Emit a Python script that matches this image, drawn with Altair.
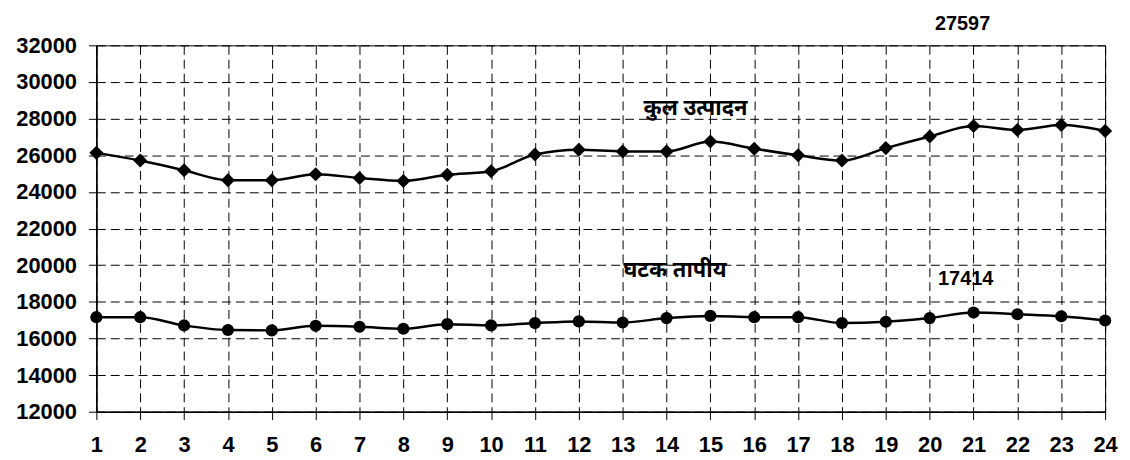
import altair as alt
import pandas as pd

hours = list(range(1, 25))
total = [26130, 25710, 25180, 24640, 24640, 24960, 24760, 24600, 24930, 25130,
         26040, 26300, 26210, 26210, 26750, 26360, 26000, 25710, 26390, 27020,
         27597, 27380, 27650, 27330]
thermal = [17160, 17160, 16710, 16460, 16440, 16690, 16640, 16530, 16780, 16710,
           16840, 16930, 16870, 17110, 17230, 17160, 17160, 16840, 16910, 17110,
           17414, 17320, 17210, 16980]

series_names = ["कुल उत्पादन", "घटक तापीय"]
series_shapes = ["diamond", "circle"]
series_sizes = [200, 150]

name_x = [14.66, 14.19]
name_y = [28600, 19730]

value_text = ["27597", "17414"]
value_x = [20.75, 20.82]
value_y = [33190, 19230]

y_ticks = list(range(12000, 32001, 2000))

rows = []
for name, vals in zip(series_names, [total, thermal]):
    for h, v in zip(hours, vals):
        rows.append({"series": name, "hour": h, "value": v})
df = pd.DataFrame(rows)

names_df = pd.DataFrame({"text": series_names, "x": name_x, "y": name_y})
values_df = pd.DataFrame({"text": value_text, "x": value_x, "y": value_y})

xscale = alt.Scale(domain=[1, 24], nice=False, zero=False)
yscale = alt.Scale(domain=[12000, 32000], nice=False, zero=False)

xaxis = alt.Axis(values=hours, labelFlush=False, labelOverlap=False,
                 labelPadding=15, grid=True, title=None)
yaxis = alt.Axis(values=y_ticks, labelPadding=12, grid=True, format="d",
                 labelOverlap=False, title=None)

xenc = alt.X("hour:Q", scale=xscale, axis=xaxis)
yenc = alt.Y("value:Q", scale=yscale, axis=yaxis)

base = alt.Chart(df)

line = base.mark_line(color="black", strokeWidth=2.5, interpolate="monotone").encode(
    x=xenc, y=yenc, detail="series:N"
)

points = base.mark_point(filled=True, color="black", opacity=1).encode(
    x=xenc, y=yenc,
    shape=alt.Shape("series:N", scale=alt.Scale(domain=series_names, range=series_shapes), legend=None),
    size=alt.Size("series:N", scale=alt.Scale(domain=series_names, range=series_sizes), legend=None),
)

names = alt.Chart(names_df).mark_text(
    fontSize=22, fontWeight="bold", color="black", align="center", baseline="middle",
    font="Noto Sans Devanagari, Lohit Devanagari, FreeSans, sans-serif"
).encode(
    x=alt.X("x:Q", scale=xscale, axis=xaxis),
    y=alt.Y("y:Q", scale=yscale, axis=yaxis),
    text="text:N"
)

vals = alt.Chart(values_df).mark_text(
    fontSize=20, fontWeight="bold", color="black", align="center", baseline="middle",
    font="Liberation Sans"
).encode(
    x=alt.X("x:Q", scale=xscale, axis=xaxis),
    y=alt.Y("y:Q", scale=yscale, axis=yaxis),
    text="text:N"
)

chart = alt.layer(line, points, names, vals).properties(
    width=1016, height=369,
    autosize=alt.AutoSizeParams(type="none"),
    padding={"left": 89, "top": 36, "right": 17, "bottom": 44},
    background="white",
).configure_view(
    stroke="black", strokeWidth=1
).configure_axis(
    domainColor="black", domainWidth=1.5,
    tickColor="black", tickSize=8, tickWidth=1,
    labelColor="black", labelFont="Liberation Sans", labelFontWeight="bold",
    labelFontSize=22,
    gridColor="black", gridDash=[9, 5], gridWidth=1, gridOpacity=1,
)

chart.save("out.html", embed_options={"renderer": "svg", "actions": False})
